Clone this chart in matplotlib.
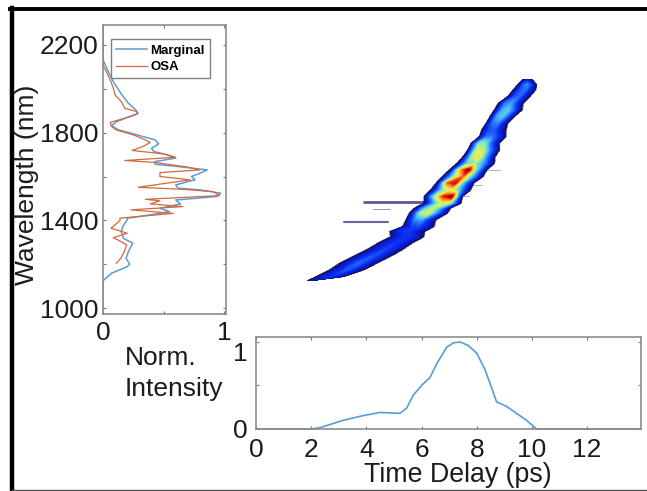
import numpy as np
import matplotlib
matplotlib.use('Agg')
import matplotlib.pyplot as plt
from matplotlib.colors import LinearSegmentedColormap
from matplotlib.lines import Line2D

plt.rcParams['font.family'] = ['Liberation Sans', 'DejaVu Sans']

W, H = 647, 491

# spectrum panel
marginal_wl = [973, 1124, 1159, 1189, 1201, 1227, 1258, 1296, 1318, 1349, 1379, 1402, 1410, 1425, 1440,
               1455, 1475, 1493, 1509, 1524, 1539, 1547, 1562, 1585, 1600, 1615, 1630, 1646, 1656, 1668,
               1684, 1699, 1714, 1729, 1749, 1767, 1790, 1813, 1832, 1850, 1873, 1888, 1907, 1934, 1980,
               2033, 2071, 2132, 2291]
marginal_val = [0, 0, 0.07, 0.20, 0.22, 0.19, 0.21, 0.245, 0.17, 0.15, 0.17, 0.20, 0.20, 0.39, 0.55,
                0.47, 0.64, 0.60, 0.94, 0.97, 0.80, 0.62, 0.60, 0.76, 0.73, 0.80, 0.86, 0.61, 0.43, 0.43,
                0.60, 0.53, 0.42, 0.40, 0.46, 0.43, 0.28, 0.127, 0.07, 0.11, 0.22, 0.29, 0.265, 0.21, 0.146,
                0.085, 0.05, 0, 0]
osa_wl = [1204, 1227, 1250, 1288, 1306, 1321, 1341, 1352, 1364, 1380, 1399, 1410, 1432, 1448, 1463,
          1475, 1489, 1496, 1513, 1531, 1542, 1551, 1570, 1585, 1600, 1618, 1630, 1643, 1664, 1673,
          1688, 1703, 1719, 1737, 1755, 1767, 1790, 1812, 1828, 1847, 1866, 1884, 1896, 1911, 1942,
          1972, 2003, 2041, 2109, 2291]
osa_val = [0.11, 0.146, 0.17, 0.195, 0.14, 0.085, 0.20, 0.14, 0.066, 0.10, 0.14, 0.14, 0.58, 0.23, 0.66,
           0.39, 0.47, 0.35, 0.96, 0.91, 0.64, 0.29, 0.53, 0.72, 0.47, 0.47, 0.80, 0.70, 0.43, 0.18,
           0.60, 0.50, 0.24, 0.33, 0.39, 0.35, 0.25, 0.11, 0.07, 0.06, 0.18, 0.28, 0.28, 0.18, 0.15,
           0.10, 0.085, 0.06, 0, 0]

# temporal marginal
delay = [0, 2.0, 2.32, 3.16, 3.83, 4.49, 5.22, 5.46, 5.70, 6.06, 6.30, 6.55, 6.91, 7.15, 7.39, 7.69, 8.0,
         8.30, 8.54, 8.72, 9.08, 9.44, 9.80, 10.17, 13.95]
intensity = [0, 0, 0.015, 0.10, 0.15, 0.19, 0.18, 0.24, 0.39, 0.52, 0.59, 0.75, 0.94, 0.99, 1.0, 0.96, 0.87,
             0.68, 0.47, 0.31, 0.26, 0.18, 0.10, 0, 0]

# spectrogram: per wavelength row, left and right edge of the streak and the level across it
row_wl = [1125, 1143, 1174, 1204, 1235, 1265, 1296, 1326, 1349, 1372, 1402, 1433, 1455, 1478, 1509, 1539,
          1570, 1600, 1630, 1661, 1691, 1722, 1752, 1783, 1813, 1843, 1874, 1904, 1935, 1965, 1996, 2018, 2041]
row_left = [1.84, 2.14, 2.62, 2.98, 3.47, 3.95, 4.37, 4.85, 4.80, 5.28, 5.40, 5.52, 5.70, 6.05, 6.06, 6.30,
            6.50, 6.72, 6.98, 7.26, 7.48, 7.66, 7.78, 8.08, 8.16, 8.32, 8.46, 8.62, 8.76, 9.10, 9.30, 9.45, 9.63]
row_right = [2.08, 3.22, 3.95, 4.43, 4.92, 5.34, 5.70, 6.14, 6.16, 6.50, 6.55, 6.98, 7.08, 7.46, 7.50, 7.82,
             7.92, 8.26, 8.40, 8.68, 8.70, 8.86, 8.84, 9.10, 9.10, 9.16, 9.40, 9.68, 9.72, 9.96, 10.17, 10.2, 10.05]
row_levels = [
    [0.04, 0.08, 0.10, 0.08, 0.03],
    [0.08, 0.16, 0.20, 0.16, 0.07],
    [0.09, 0.18, 0.26, 0.18, 0.08],
    [0.09, 0.20, 0.28, 0.20, 0.08],
    [0.09, 0.19, 0.26, 0.19, 0.08],
    [0.09, 0.18, 0.24, 0.18, 0.08],
    [0.09, 0.18, 0.22, 0.17, 0.08],
    [0.10, 0.19, 0.22, 0.17, 0.08],
    [0.10, 0.20, 0.22, 0.17, 0.08],
    [0.11, 0.22, 0.24, 0.18, 0.08],
    [0.12, 0.32, 0.36, 0.22, 0.09],
    [0.14, 0.52, 0.58, 0.32, 0.11],
    [0.14, 0.40, 0.55, 0.38, 0.12],
    [0.15, 0.38, 0.60, 0.48, 0.13],
    [0.16, 0.55, 0.85, 1.00, 0.26],
    [0.15, 0.45, 0.60, 0.40, 0.12],
    [0.17, 0.78, 0.90, 0.40, 0.13],
    [0.17, 0.50, 0.78, 0.42, 0.13],
    [0.16, 0.70, 0.98, 0.46, 0.13],
    [0.15, 0.45, 0.50, 0.34, 0.12],
    [0.16, 0.55, 0.66, 0.36, 0.12],
    [0.20, 0.58, 0.54, 0.30, 0.12],
    [0.20, 0.50, 0.48, 0.28, 0.11],
    [0.16, 0.30, 0.30, 0.20, 0.09],
    [0.12, 0.24, 0.26, 0.18, 0.08],
    [0.13, 0.30, 0.32, 0.20, 0.08],
    [0.14, 0.38, 0.42, 0.26, 0.09],
    [0.14, 0.38, 0.42, 0.26, 0.09],
    [0.13, 0.32, 0.36, 0.22, 0.08],
    [0.10, 0.24, 0.28, 0.18, 0.08],
    [0.10, 0.24, 0.30, 0.20, 0.08],
    [0.09, 0.26, 0.33, 0.22, 0.08],
    [0.05, 0.12, 0.16, 0.10, 0.04],
]
row_fractions = [0, 0.1, 0.3, 0.5, 0.7, 0.9, 1]

# faint side streaks and edge spikes: wavelength, start, end
wisp_wl = [1486, 1451, 1394, 1630, 1562, 1510]
wisp_start = [3.9, 4.25, 3.2, 8.4, 7.9, 7.4]
wisp_end = [6.1, 4.85, 4.8, 8.85, 8.2, 7.7]
wisp_width = [2.0, 0.7, 1.5, 0.6, 0.6, 0.6]
wisp_alpha = [0.7, 0.45, 0.65, 0.4, 0.4, 0.4]


def axes_px(left, top, right, bottom):
    return fig.add_axes([left / W, 1 - bottom / H, (right - left) / W, (bottom - top) / H])


def style_box(ax):
    for s in ax.spines.values():
        s.set_color('#8c8c8c')
        s.set_linewidth(1.2)
    ax.tick_params(direction='in', length=2.5, width=0.8, color='#777777', top=True, right=True,
                   labelsize=19, labelcolor='#1c1c1c')


fig = plt.figure(figsize=(W / 100, H / 100), dpi=100)

# spectrogram, same scale as the two marginals
ax_map = axes_px(256, 25, 641, 314)
ax_map.set_xlim(0, 13.95)
ax_map.set_ylim(973, 2291)
ax_map.axis('off')

cmap = LinearSegmentedColormap.from_list('streak', [
    (0.0, '#ffffff'), (0.02, '#c8c8d0'), (0.05, '#16163c'), (0.10, '#0a14a0'), (0.20, '#0a28f0'),
    (0.32, '#2a80ff'), (0.42, '#58c8f0'), (0.52, '#a0f09a'), (0.62, '#f0f050'), (0.74, '#ffa020'),
    (0.86, '#e81c10'), (1.0, '#820000')])
left = np.array(row_left)
right = np.array(row_right)
fr = np.array(row_fractions)
X = left[:, None] + (right - left)[:, None] * fr[None, :]
Y = np.repeat(np.array(row_wl)[:, None], len(fr), axis=1)
Z = np.pad(np.array(row_levels), ((0, 0), (1, 1)))
ax_map.contourf(X, Y, Z, levels=np.linspace(0.003, 1, 60), cmap=cmap, vmin=0, vmax=1, extend='neither')
for wl, x0, x1, lw, a in zip(wisp_wl, wisp_start, wisp_end, wisp_width, wisp_alpha):
    ax_map.plot([x0, x1], [wl, wl], color='#14146e', lw=lw, alpha=a, solid_capstyle='round', zorder=1)

# spectrum
ax_spec = axes_px(103, 25, 226, 314)
ax_spec.plot(marginal_val, marginal_wl, color='#5b9bd5', lw=1.1, label='Marginal')
ax_spec.plot(osa_val, osa_wl, color='#d2693c', lw=0.9, label='OSA')
ax_spec.set_xlim(0, 1.015)
ax_spec.set_ylim(973, 2291)
ax_spec.set_xticks([0, 0.5, 1])
ax_spec.set_xticklabels(['0', '', '1'])
ax_spec.set_yticks([1000, 1200, 1400, 1600, 1800, 2000, 2200])
ax_spec.set_yticklabels(['1000', '', '1400', '', '1800', '', '2200'])
style_box(ax_spec)
ax_spec.tick_params(axis='x', pad=5)
ax_spec.tick_params(axis='y', pad=3)
leg = ax_spec.legend(loc='upper left', bbox_to_anchor=(0.065, 0.95), borderaxespad=0,
                     prop={'size': 9.5, 'weight': 'bold'}, fancybox=False, framealpha=1,
                     edgecolor='#808080', handlelength=2.3, labelspacing=0.3, borderpad=0.4, handletextpad=0.3)
leg.get_frame().set_linewidth(1.0)

# temporal marginal
ax_time = axes_px(256, 337, 641, 429)
ax_time.plot(delay, intensity, color='#5b9bd5', lw=1.2, clip_on=False)
ax_time.set_xlim(0, 13.95)
ax_time.set_ylim(0, 1.057)
ax_time.set_xticks([0, 2, 4, 6, 8, 10, 12])
ax_time.set_yticks([0, 0.5, 1])
ax_time.set_yticklabels(['0', '', '1'])
style_box(ax_time)
ax_time.tick_params(axis='x', pad=6.5)
ax_time.tick_params(axis='y', pad=6)
ax_time.get_yticklabels()[2].set_va('top')

fig.text(27 / W, 1 - 185 / H, 'Wavelength (nm)', rotation=90, ha='center', va='center', fontsize=19, color='#1c1c1c')
fig.text(125 / W, 1 - 358 / H, 'Norm.', ha='left', va='center', fontsize=19, color='#1c1c1c')
fig.text(125 / W, 1 - 389 / H, 'Intensity', ha='left', va='center', fontsize=19, color='#1c1c1c')
fig.text(458 / W, 1 - 475 / H, 'Time Delay (ps)', ha='center', va='center', fontsize=19.3, color='#1c1c1c')

# outer picture border
fig.add_artist(Line2D([12 / W, 12 / W], [0, 1 - 8 / H], color='black', lw=3.2))
fig.add_artist(Line2D([10 / W, 1], [1 - 8.5 / H, 1 - 8.5 / H], color='black', lw=2.8))
fig.add_artist(Line2D([12 / W, 1], [1 - 489.5 / H, 1 - 489.5 / H], color='#555555', lw=1.0))

fig.savefig('out.png', dpi=100)
